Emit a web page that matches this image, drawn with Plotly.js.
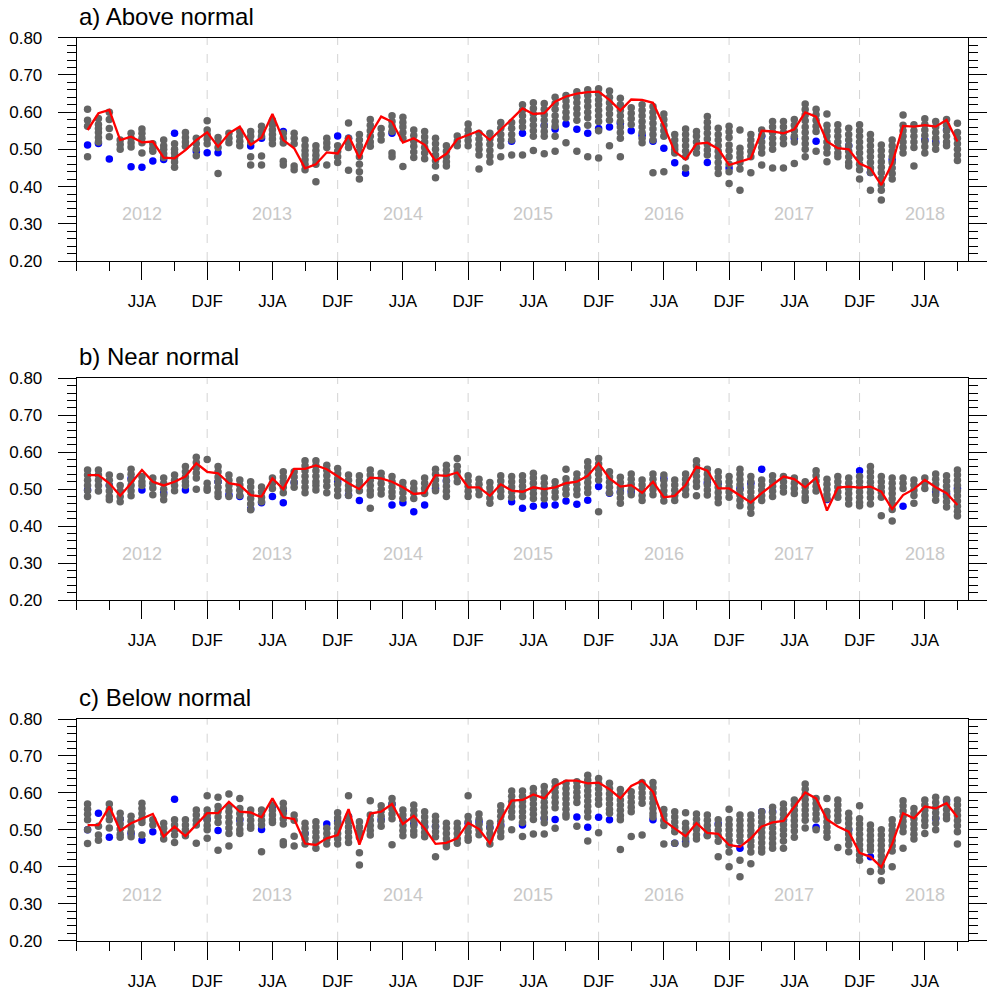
<!DOCTYPE html>
<html><head><meta charset="utf-8">
<script src="https://cdn.plot.ly/plotly-3.0.1.min.js"></script>
<style>html,body{margin:0;padding:0;background:#fff}#chart{width:989px;height:994px}</style>
</head><body><div id="chart"></div>
<script>
// ---------------- DATA ----------------
const panelTitles = ['a) Above normal', 'b) Near normal', 'c) Below normal'];
const seasonLabels = ['JJA','DJF','JJA','DJF','JJA','DJF','JJA','DJF','JJA','DJF','JJA','DJF','JJA'];
const yearLabels = ['2012','2013','2014','2015','2016','2017','2018'];
const nMonths = 81; // Feb 2012 .. Oct 2018 (month index 1..81, Jan 2012 = 0)

const redA = [0.552,0.597,0.606,0.525,0.534,0.519,0.521,0.478,0.476,0.498,
0.525,0.546,0.507,0.543,0.561,0.512,0.532,0.595,0.525,0.503,
0.449,0.460,0.492,0.489,0.537,0.476,0.540,0.588,0.574,0.518,
0.530,0.512,0.469,0.488,0.527,0.539,0.550,0.525,0.552,0.581,
0.610,0.595,0.597,0.628,0.642,0.650,0.654,0.655,0.633,0.604,
0.634,0.633,0.625,0.563,0.494,0.473,0.515,0.518,0.501,0.458,
0.467,0.476,0.550,0.548,0.543,0.554,0.599,0.588,0.521,0.503,
0.500,0.462,0.449,0.404,0.462,0.563,0.561,0.565,0.561,0.579,0.521];

const redB = [0.538,0.538,0.516,0.482,0.516,0.552,0.520,0.510,0.520,0.534,
0.570,0.547,0.543,0.516,0.511,0.484,0.480,0.529,0.500,0.555,
0.555,0.564,0.554,0.534,0.516,0.500,0.531,0.529,0.520,0.505,
0.487,0.490,0.538,0.536,0.545,0.505,0.505,0.482,0.513,0.496,
0.493,0.505,0.500,0.505,0.516,0.520,0.536,0.570,0.529,0.507,
0.511,0.490,0.520,0.478,0.482,0.511,0.561,0.550,0.502,0.502,
0.482,0.464,0.489,0.511,0.534,0.527,0.505,0.531,0.442,0.504,
0.507,0.504,0.507,0.493,0.446,0.484,0.500,0.525,0.505,0.489,0.457];

const redC = [0.513,0.513,0.563,0.498,0.518,0.531,0.543,0.482,0.509,0.483,
0.513,0.545,0.545,0.576,0.549,0.547,0.534,0.585,0.534,0.529,
0.463,0.459,0.477,0.486,0.556,0.460,0.544,0.549,0.570,0.516,
0.538,0.504,0.462,0.465,0.477,0.519,0.502,0.463,0.527,0.579,
0.581,0.596,0.585,0.619,0.633,0.633,0.626,0.628,0.610,0.585,
0.619,0.633,0.603,0.525,0.504,0.483,0.518,0.492,0.489,0.459,
0.454,0.477,0.509,0.520,0.524,0.563,0.601,0.585,0.528,0.509,
0.495,0.438,0.427,0.399,0.462,0.545,0.531,0.563,0.558,0.572,0.534];

const blueA = [0.512,0.516,0.474,null,0.453,0.452,0.469,0.473,0.543,null,
0.494,0.491,0.491,null,null,0.509,0.530,null,0.548,null,
null,null,null,0.536,0.530,null,null,null,0.543,null,
null,null,null,null,null,null,null,null,null,0.522,
0.543,null,0.564,0.554,0.568,0.554,0.543,0.556,0.560,0.570,
0.550,0.538,0.522,0.503,0.464,0.436,null,0.465,null,0.450,
null,null,0.535,null,null,0.530,null,0.522,null,null,
0.510,null,0.438,null,0.472,null,null,0.525,0.520,0.552,null];

const blueB = [0.498,null,0.510,null,0.529,0.498,null,0.490,null,0.498,
null,null,0.520,0.484,0.480,0.446,0.463,0.480,0.463,0.518,
null,null,null,0.520,0.484,0.469,null,null,0.457,0.463,
0.439,0.457,0.502,0.523,null,null,null,null,null,0.466,
0.448,0.454,0.457,0.457,0.468,0.459,0.470,0.507,0.489,0.493,
0.493,null,null,0.529,null,null,null,0.517,0.516,null,
0.502,0.516,0.554,null,null,null,null,null,0.472,null,
null,0.550,null,null,null,0.454,null,null,0.493,0.487,0.502];

const blueC = [0.500,0.545,0.480,0.529,0.490,0.472,0.495,null,0.583,null,
null,0.529,0.498,null,0.527,null,0.501,0.563,0.552,null,
0.490,null,0.516,0.522,0.536,null,null,0.527,0.569,0.527,
0.516,0.509,0.509,null,null,0.518,0.522,0.507,0.513,null,
0.513,null,0.531,0.528,null,0.535,0.507,0.534,0.527,null,
null,null,0.527,null,0.464,0.468,null,0.486,0.516,null,
0.450,null,0.549,0.549,0.527,null,null,0.507,null,null,
0.500,null,0.427,null,null,null,null,null,0.531,0.579,null];

const grayA = [
[0.608,0.578,0.562,0.48],[0.583,0.567,0.556,0.545,0.532,0.52],[0.60,0.58,0.556,0.534],[0.525,0.513,0.50],
[0.543,0.53,0.518,0.506],[0.555,0.543,0.53,0.518,0.49],[0.515,0.503,0.495],[0.525,0.51,0.50,0.488,0.478],
[0.515,0.50,0.49,0.478,0.466,0.452],[0.545,0.532,0.52,0.508],[0.53,0.515,0.50,0.483],[0.577,0.552,0.54,0.528,0.515],
[0.532,0.52,0.505,0.435],[0.543,0.53,0.518],[0.548,0.535,0.522,0.51],[0.548,0.535,0.52,0.48,0.458],
[0.562,0.548,0.535,0.482,0.458],[0.578,0.566,0.553,0.54,0.528,0.515],[0.543,0.53,0.517,0.468,0.458],[0.543,0.53,0.515,0.455,0.445],
[0.525,0.51,0.497,0.485,0.472,0.46,0.445],[0.51,0.497,0.484,0.472,0.46,0.413],[0.53,0.517,0.505,0.458],[0.51,0.495,0.48,0.465],
[0.571,0.53,0.517,0.505,0.444],[0.54,0.525,0.51,0.495,0.48,0.46,0.44,0.42],[0.58,0.565,0.55,0.535,0.52,0.508],[0.556,0.54,0.525],
[0.59,0.575,0.562,0.548,0.49,0.48],[0.586,0.572,0.56,0.545,0.53,0.454],[0.552,0.537,0.522,0.508,0.493,0.478],[0.548,0.533,0.52,0.505,0.49,0.475],
[0.53,0.515,0.5,0.485,0.47,0.455,0.424],[0.51,0.495,0.48,0.467,0.455],[0.536,0.522,0.51],[0.568,0.552,0.538,0.524,0.51],
[0.543,0.528,0.513,0.5,0.485,0.447],[0.543,0.528,0.513,0.497,0.482,0.466],[0.572,0.557,0.54,0.525,0.51,0.48],[0.572,0.557,0.54,0.525,0.485],
[0.62,0.605,0.59,0.575,0.56,0.485],[0.625,0.61,0.595,0.58,0.565,0.55,0.535,0.497],[0.623,0.608,0.593,0.578,0.563,0.548,0.535,0.488],[0.64,0.623,0.608,0.59,0.575,0.562,0.535,0.495],
[0.645,0.63,0.615,0.6,0.585,0.518],[0.655,0.64,0.625,0.61,0.595,0.578,0.495],[0.66,0.645,0.63,0.615,0.6,0.585,0.565,0.48],[0.663,0.648,0.633,0.62,0.605,0.59,0.575,0.55,0.477],
[0.657,0.64,0.625,0.61,0.595,0.578,0.51],[0.637,0.62,0.605,0.59,0.575,0.56,0.545,0.53,0.48],[0.612,0.597,0.582,0.567],[0.62,0.605,0.59,0.575,0.56,0.545,0.53,0.518],
[0.615,0.6,0.585,0.57,0.555,0.54,0.525,0.437],[0.595,0.58,0.565,0.55,0.535,0.44],[0.54,0.525,0.51,0.5,0.49],[0.555,0.54,0.525,0.51,0.495,0.48,0.45],
[0.548,0.535,0.52,0.505,0.49],[0.588,0.573,0.558,0.543,0.528,0.513,0.498,0.485],[0.557,0.54,0.525,0.51,0.495,0.48,0.465,0.45,0.435],[0.562,0.547,0.532,0.512,0.497,0.48,0.46,0.44,0.408],
[0.552,0.503,0.49,0.478,0.465,0.447,0.39],[0.54,0.525,0.51,0.495,0.48,0.437],[0.552,0.537,0.52,0.505,0.49,0.458],[0.575,0.56,0.545,0.53,0.515,0.5,0.45],
[0.575,0.56,0.545,0.53,0.515,0.45],[0.58,0.565,0.55,0.535,0.52,0.462],[0.622,0.607,0.592,0.577,0.56,0.545,0.53,0.515,0.5,0.48],[0.608,0.593,0.578,0.562,0.548,0.495],
[0.595,0.565,0.55,0.535,0.52,0.505,0.49,0.467],[0.566,0.55,0.535,0.52,0.505,0.49,0.48],[0.557,0.54,0.525,0.51,0.495,0.48,0.465,0.455],[0.566,0.55,0.535,0.52,0.505,0.49,0.475,0.46,0.445,0.42],
[0.54,0.525,0.51,0.495,0.48,0.465,0.45,0.438,0.39],[0.512,0.497,0.482,0.467,0.452,0.437,0.42,0.405,0.39,0.364],[0.525,0.51,0.495,0.48,0.465,0.45,0.435,0.42],[0.592,0.565,0.55,0.535,0.52,0.505,0.49],
[0.566,0.55,0.535,0.52,0.505,0.455],[0.582,0.567,0.552,0.537,0.522,0.507,0.49],[0.575,0.56,0.545,0.53,0.515,0.5],[0.58,0.565,0.55,0.535,0.52,0.51],
[0.57,0.545,0.53,0.515,0.5,0.485,0.47]];

const grayB = [
[0.552,0.538,0.524,0.51,0.496,0.48],[0.552,0.538,0.524,0.51,0.495],[0.538,0.524,0.51,0.495,0.48,0.471],[0.534,0.51,0.495,0.48,0.466],
[0.554,0.54,0.525,0.51,0.496,0.482],[0.534,0.52,0.51],[0.53,0.516,0.503,0.485],[0.53,0.515,0.5,0.485,0.471],
[0.538,0.524,0.51,0.496],[0.561,0.547,0.533,0.52,0.51],[0.586,0.572,0.558,0.544,0.53,0.5],[0.58,0.516,0.503,0.497],
[0.561,0.547,0.533,0.52,0.505,0.49,0.48],[0.538,0.524,0.51,0.496,0.48],[0.525,0.511,0.497,0.483],[0.52,0.506,0.49,0.475,0.46,0.444],
[0.506,0.492,0.478,0.466],[0.53,0.516,0.502],[0.547,0.533,0.52,0.505,0.49],[0.547,0.533,0.518,0.505],
[0.577,0.563,0.55,0.535,0.52,0.505,0.49],[0.577,0.563,0.55,0.535,0.52,0.51,0.498],[0.565,0.551,0.537,0.522,0.508,0.49],[0.556,0.542,0.528,0.513,0.498,0.482],
[0.538,0.524,0.51,0.497,0.483],[0.536,0.522,0.51,0.496],[0.552,0.538,0.524,0.51,0.496,0.484,0.448],[0.543,0.53,0.515,0.5,0.487],
[0.534,0.52,0.506,0.492,0.48],[0.518,0.504,0.49,0.475],[0.516,0.502,0.49,0.475],[0.53,0.516,0.502,0.488],
[0.554,0.54,0.525,0.51,0.496],[0.565,0.551,0.537,0.522,0.508,0.494,0.48],[0.583,0.562,0.548,0.534,0.52],[0.536,0.522,0.508,0.494,0.48],
[0.527,0.513,0.5,0.485],[0.518,0.504,0.49,0.476,0.462],[0.536,0.522,0.508,0.494,0.48],[0.534,0.52,0.506,0.492,0.478],
[0.536,0.522,0.508,0.494,0.48],[0.543,0.53,0.516,0.502,0.488,0.475],[0.53,0.516,0.502,0.488,0.474],[0.52,0.506,0.492,0.478],
[0.554,0.528,0.514,0.5,0.486],[0.541,0.527,0.513,0.499,0.485],[0.574,0.56,0.546,0.532,0.518,0.504,0.49],[0.583,0.568,0.554,0.54,0.525,0.439],
[0.547,0.533,0.519,0.505,0.49],[0.532,0.518,0.504,0.49,0.476,0.462],[0.541,0.527,0.513,0.499,0.485],[0.525,0.511,0.497,0.483,0.469],
[0.541,0.527,0.513,0.499,0.485],[0.538,0.524,0.51,0.496,0.482,0.468],[0.525,0.511,0.497,0.483,0.469],[0.541,0.527,0.513,0.499,0.485],
[0.577,0.563,0.549,0.535,0.521,0.507,0.482],[0.554,0.54,0.526,0.512,0.498,0.484],[0.547,0.533,0.519,0.505,0.491,0.477,0.463],[0.534,0.52,0.506,0.492,0.478],
[0.554,0.54,0.526,0.512,0.498,0.484,0.47,0.455],[0.534,0.52,0.506,0.492,0.478,0.464,0.45,0.435],[0.525,0.511,0.497,0.483,0.469],[0.536,0.522,0.508,0.494,0.48],
[0.534,0.52,0.506,0.492],[0.53,0.516,0.502,0.488],[0.52,0.506,0.492,0.478,0.47],[0.55,0.536,0.522,0.508,0.495],
[0.527,0.513,0.499,0.485,0.474],[0.534,0.52,0.506,0.492,0.478],[0.53,0.516,0.502,0.488,0.474,0.46],[0.534,0.52,0.506,0.492,0.478,0.464,0.455],
[0.561,0.547,0.533,0.519,0.505,0.491,0.477,0.46],[0.534,0.52,0.506,0.492,0.478,0.428],[0.53,0.516,0.502,0.488,0.474,0.46,0.445,0.414],[0.53,0.516,0.502],
[0.525,0.511,0.497,0.483,0.462],[0.53,0.516,0.502],[0.541,0.527,0.513,0.499,0.485,0.47],[0.536,0.522,0.508,0.494,0.48,0.466,0.452],
[0.552,0.538,0.524,0.51,0.496,0.482,0.468,0.454,0.44,0.427]];

const grayC = [
[0.57,0.556,0.542,0.527,0.5,0.463],[0.51,0.486,0.472],[0.57,0.555,0.542,0.527,0.505],[0.545,0.53,0.516,0.502,0.488,0.48],
[0.537,0.523,0.509,0.495,0.481],[0.572,0.558,0.544,0.53,0.52,0.486],[0.527,0.513],[0.518,0.504,0.49,0.475],
[0.527,0.513,0.5,0.486,0.466],[0.527,0.513,0.5,0.484],[0.554,0.54,0.526,0.513,0.464],[0.592,0.554,0.54,0.526,0.512,0.5,0.477],
[0.588,0.563,0.55,0.535,0.52,0.445],[0.597,0.563,0.55,0.535,0.52,0.505,0.49,0.456],[0.585,0.558,0.544,0.53,0.516,0.5,0.49],[0.554,0.54,0.526,0.512,0.504],
[0.554,0.54,0.526,0.513,0.441],[0.567,0.553,0.54,0.527,0.52],[0.572,0.558,0.544,0.53,0.516,0.468,0.46],[0.54,0.526,0.483,0.456],
[0.518,0.504,0.49,0.476,0.462],[0.522,0.508,0.494,0.48,0.466,0.45],[0.504,0.49,0.476,0.462],[0.546,0.532,0.518,0.504,0.49,0.476,0.462],
[0.592,0.536,0.522,0.508,0.494,0.48,0.466],[0.522,0.508,0.494,0.48,0.438,0.405],[0.579,0.54,0.526,0.512,0.498,0.486],[0.565,0.551,0.537,0.523,0.51],
[0.585,0.571,0.557,0.543,0.53,0.46],[0.554,0.54,0.526,0.512,0.498,0.484],[0.567,0.553,0.539,0.525,0.511,0.497,0.486],[0.549,0.535,0.521,0.507,0.493,0.481],
[0.537,0.523,0.509,0.495,0.481,0.427],[0.518,0.504,0.49,0.476,0.462,0.454],[0.518,0.504,0.49,0.476,0.464],[0.592,0.536,0.522,0.508,0.494,0.48,0.472],
[0.543,0.529,0.515,0.501,0.487],[0.518,0.504,0.49,0.476,0.462],[0.565,0.551,0.537,0.523,0.509,0.495,0.481],[0.605,0.591,0.577,0.563,0.549,0.535,0.5],
[0.605,0.591,0.577,0.563,0.549,0.535,0.52,0.482],[0.612,0.598,0.584,0.57,0.556,0.542,0.528,0.489],[0.617,0.603,0.589,0.575,0.561,0.547,0.533,0.519,0.489],[0.63,0.616,0.602,0.588,0.574,0.56,0.504],
[0.626,0.612,0.598,0.584,0.57,0.556,0.542,0.535],[0.63,0.616,0.602,0.588,0.574,0.51],[0.648,0.634,0.62,0.606,0.592,0.578,0.564,0.55,0.535,0.47],[0.639,0.625,0.611,0.597,0.583,0.569,0.492],
[0.626,0.612,0.598,0.584,0.57,0.556,0.545],[0.609,0.595,0.581,0.567,0.553,0.539,0.527,0.447],[0.603,0.589,0.575,0.561,0.549,0.482],[0.628,0.614,0.6,0.586,0.572,0.486],
[0.628,0.614,0.6,0.586,0.572,0.558,0.544,0.535],[0.555,0.54,0.525,0.512,0.462],[0.549,0.535,0.521,0.507,0.495,0.464],[0.546,0.518,0.504,0.49,0.476,0.462],
[0.543,0.529,0.515,0.501,0.487,0.475],[0.54,0.526,0.512,0.498,0.484],[0.527,0.513,0.499,0.485,0.469,0.427],[0.556,0.528,0.514,0.5,0.486,0.472,0.458,0.44,0.4],
[0.54,0.526,0.512,0.498,0.484,0.47,0.418,0.373],[0.54,0.526,0.512,0.498,0.484,0.47,0.456,0.44,0.408],[0.549,0.535,0.521,0.507,0.493,0.479,0.465,0.451,0.44],[0.561,0.547,0.533,0.519,0.505,0.491,0.477,0.463,0.45],
[0.57,0.556,0.542,0.528,0.514,0.5,0.486,0.47,0.45],[0.581,0.567,0.553,0.539,0.525,0.511,0.497,0.48],[0.624,0.61,0.596,0.582,0.568,0.554,0.54,0.526,0.505],[0.585,0.571,0.557,0.543,0.529,0.5],
[0.585,0.55,0.536,0.522,0.508,0.494,0.48],[0.581,0.567,0.553,0.539,0.525,0.452],[0.545,0.531,0.517,0.503,0.489,0.475,0.46,0.441],[0.565,0.53,0.516,0.502,0.488,0.474,0.46,0.446,0.432,0.418],
[0.513,0.499,0.485,0.471,0.457,0.445,0.387],[0.5,0.486,0.472,0.458,0.444,0.43,0.416,0.402,0.388,0.362],[0.527,0.513,0.499,0.485,0.471,0.457,0.443,0.4],[0.579,0.565,0.551,0.537,0.523,0.509,0.495,0.45],
[0.558,0.544,0.53,0.516,0.502,0.488,0.475],[0.581,0.567,0.553,0.539,0.525,0.511,0.49],[0.588,0.574,0.56,0.546,0.532,0.518,0.5],[0.583,0.569,0.555,0.541,0.53],
[0.581,0.567,0.553,0.539,0.525,0.511,0.495,0.462]];

// ---------------- BUILD ----------------
const FONT = 'Liberation Sans, Arial, Helvetica, sans-serif';
const W = 989, H = 994;
const months = Array.from({length: nMonths}, (_, i) => i + 1);
const tickVals = seasonLabels.map((_, i) => 6 * (i + 1));
const djfVals = tickVals.filter((_, i) => seasonLabels[i] === 'DJF');
const yearPos = yearLabels.map((_, i) => 6 + 12 * i);

const xDom = [76.7 / W, 968.3 / W];
const panelPix = [[37.7, 261], [378.3, 600], [719, 940.7]];
const titlePix = [17, 357, 697];

const panels = [
  {red: redA, blue: blueA, gray: grayA},
  {red: redB, blue: blueB, gray: grayB},
  {red: redC, blue: blueC, gray: grayC}
];

const traces = [];
const layout = {
  width: W, height: H, margin: {l: 0, r: 0, t: 0, b: 0},
  paper_bgcolor: '#fff', plot_bgcolor: '#fff', showlegend: false,
  font: {family: FONT, color: '#000'},
  shapes: [], annotations: []
};

panels.forEach((p, k) => {
  const sfx = k === 0 ? '' : String(k + 1);
  const xa = 'x' + sfx, ya = 'y' + sfx;
  const gx = [], gy = [];
  p.gray.forEach((col, i) => col.forEach(v => { gx.push(months[i]); gy.push(v); }));
  traces.push({type: 'scatter', mode: 'markers', x: months, y: p.blue, xaxis: xa, yaxis: ya,
    marker: {color: '#0000ff', size: 7.5}, hoverinfo: 'skip'});
  traces.push({type: 'scatter', mode: 'markers', x: gx, y: gy, xaxis: xa, yaxis: ya,
    marker: {color: '#646464', size: 7.5}, hoverinfo: 'skip'});
  traces.push({type: 'scatter', mode: 'lines', x: months, y: p.red, xaxis: xa, yaxis: ya,
    line: {color: '#ff0000', width: 2.3}, hoverinfo: 'skip'});

  const yd = [1 - panelPix[k][1] / H, 1 - panelPix[k][0] / H];
  layout['xaxis' + sfx] = {
    domain: xDom, anchor: ya, range: [0, 82],
    tickmode: 'array', tickvals: tickVals, ticktext: seasonLabels,
    ticks: 'outside', ticklen: 18, tickwidth: 1, tickcolor: '#000',
    minor: {tickmode: 'linear', tick0: 0, dtick: 3, ticks: 'outside', ticklen: 9, tickwidth: 1, tickcolor: '#000'},
    showline: true, linecolor: '#000', linewidth: 1, mirror: true,
    showgrid: false, zeroline: false, ticklabelstandoff: 7,
    tickfont: {family: FONT, size: 17, color: '#000'}
  };
  layout['yaxis' + sfx] = {
    domain: yd, anchor: xa, range: [0.2, 0.8],
    tickmode: 'linear', tick0: 0.2, dtick: 0.1, tickformat: '.2f',
    ticks: 'outside', ticklen: 18, tickwidth: 1, tickcolor: '#000',
    minor: {tickmode: 'linear', tick0: 0.2, dtick: 0.02, ticks: 'outside', ticklen: 9, tickwidth: 1, tickcolor: '#000'},
    showline: true, linecolor: '#000', linewidth: 1, mirror: 'ticks',
    showgrid: false, zeroline: false, ticklabelstandoff: 12,
    tickfont: {family: FONT, size: 17, color: '#000'}
  };
  djfVals.forEach(v => layout.shapes.push({
    type: 'line', xref: xa, yref: ya + ' domain', x0: v, x1: v, y0: 0, y1: 1,
    line: {color: '#d4d4d4', width: 1, dash: 'dash'}, layer: 'below'}));
  yearLabels.forEach((t, i) => layout.annotations.push({
    xref: xa, yref: ya, x: yearPos[i], y: 0.325, text: t, showarrow: false,
    font: {family: FONT, size: 18, color: '#c8c8c8'}}));
  layout.annotations.push({
    xref: 'paper', yref: 'paper', x: xDom[0], y: 1 - titlePix[k] / H,
    xanchor: 'left', yanchor: 'middle', text: panelTitles[k], showarrow: false,
    font: {family: FONT, size: 24, color: '#000'}});
});

Plotly.newPlot('chart', traces, layout, {staticPlot: true});
</script></body></html>
